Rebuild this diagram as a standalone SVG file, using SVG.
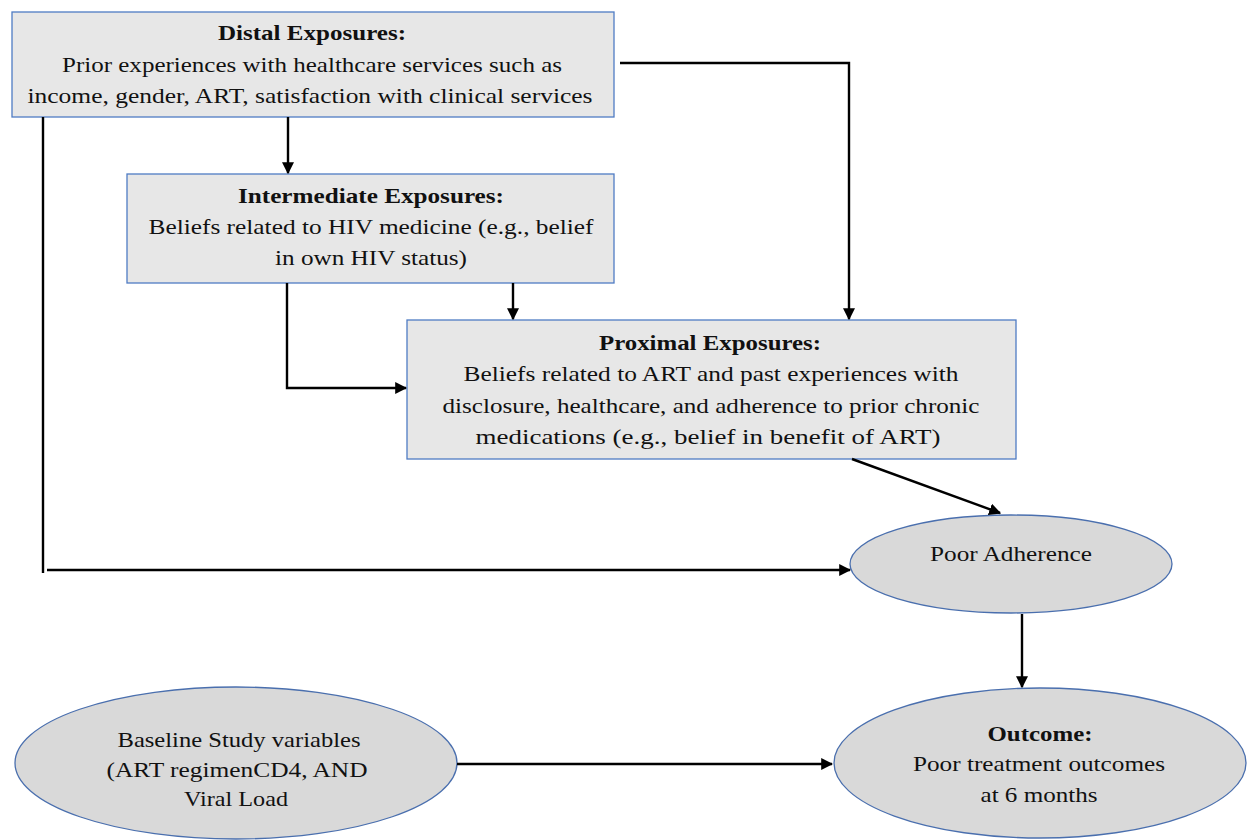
<svg xmlns="http://www.w3.org/2000/svg" width="1247" height="840" viewBox="0 0 1247 840">
  <style>
    .box { fill: #e7e7e7; stroke: #4f7cc4; stroke-width: 1.3; }
    .ell { fill: #d9d9d9; stroke: #4a6fae; stroke-width: 1.3; }
    .t { font-family: "Liberation Serif", "Times New Roman", serif; font-size: 22px; fill: #111; text-anchor: middle; }
    .b { font-weight: bold; }
    .wire { fill: none; stroke: #000; stroke-width: 2.4; }
  </style>
  <defs>
    <marker id="ah" viewBox="0 0 10 10" refX="9" refY="5" markerWidth="5" markerHeight="5" orient="auto" markerUnits="strokeWidth">
      <path d="M0,0 L10,5 L0,10 z" fill="#000"/>
    </marker>
  </defs>

  <g id="distal">
    <rect class="box" x="12" y="12" width="602" height="105"/>
    <text class="t b" x="312" y="40" textLength="188" lengthAdjust="spacingAndGlyphs">Distal Exposures:</text>
    <text class="t" x="312" y="72" textLength="500" lengthAdjust="spacingAndGlyphs">Prior experiences with healthcare services such as</text>
    <text class="t" x="310" y="103" textLength="565" lengthAdjust="spacingAndGlyphs">income, gender, ART, satisfaction with clinical services</text>
  </g>

  <g id="intermediate">
    <rect class="box" x="127" y="174" width="487" height="109"/>
    <text class="t b" x="371" y="203" textLength="266" lengthAdjust="spacingAndGlyphs">Intermediate Exposures:</text>
    <text class="t" x="371" y="234" textLength="445" lengthAdjust="spacingAndGlyphs">Beliefs related to HIV medicine (e.g., belief</text>
    <text class="t" x="371" y="265" textLength="192" lengthAdjust="spacingAndGlyphs">in own HIV status)</text>
  </g>

  <g id="proximal">
    <rect class="box" x="407" y="320" width="609" height="139"/>
    <text class="t b" x="710" y="350" textLength="222" lengthAdjust="spacingAndGlyphs">Proximal Exposures:</text>
    <text class="t" x="711" y="381" textLength="495" lengthAdjust="spacingAndGlyphs">Beliefs related to ART and past experiences with</text>
    <text class="t" x="711" y="413" textLength="537" lengthAdjust="spacingAndGlyphs">disclosure, healthcare, and adherence to prior chronic</text>
    <text class="t" x="708" y="444" textLength="465" lengthAdjust="spacingAndGlyphs">medications (e.g., belief in benefit of ART)</text>
  </g>

  <g id="adherence">
    <ellipse class="ell" cx="1011" cy="564" rx="161" ry="49"/>
    <text class="t" x="1011" y="561" textLength="162" lengthAdjust="spacingAndGlyphs">Poor Adherence</text>
  </g>

  <g id="outcome">
    <ellipse class="ell" cx="1040" cy="763" rx="206" ry="75"/>
    <text class="t b" x="1040" y="741" textLength="105" lengthAdjust="spacingAndGlyphs">Outcome:</text>
    <text class="t" x="1039" y="771" textLength="252" lengthAdjust="spacingAndGlyphs">Poor treatment outcomes</text>
    <text class="t" x="1039" y="802" textLength="117" lengthAdjust="spacingAndGlyphs">at 6 months</text>
  </g>

  <g id="baseline">
    <ellipse class="ell" cx="236" cy="763" rx="221" ry="76"/>
    <text class="t" x="239" y="747" textLength="243" lengthAdjust="spacingAndGlyphs">Baseline Study variables</text>
    <text class="t" x="237" y="777" textLength="261" lengthAdjust="spacingAndGlyphs">(ART regimenCD4, AND</text>
    <text class="t" x="236" y="806" textLength="104" lengthAdjust="spacingAndGlyphs">Viral Load</text>
  </g>

  <g id="connectors">
    <path class="wire" d="M288,117 V173" marker-end="url(#ah)"/>
    <path class="wire" d="M620,63 H849 V319" marker-end="url(#ah)"/>
    <path class="wire" d="M513,283 V319" marker-end="url(#ah)"/>
    <path class="wire" d="M287,283 V388 H406" marker-end="url(#ah)"/>
    <path class="wire" d="M852,459 L1000,513" marker-end="url(#ah)"/>
    <path class="wire" d="M43,117 V573"/>
    <path class="wire" d="M47,570 H850" marker-end="url(#ah)"/>
    <path class="wire" d="M1022,614 V687" marker-end="url(#ah)"/>
    <path class="wire" d="M457,764 H832" marker-end="url(#ah)"/>
  </g>
</svg>
